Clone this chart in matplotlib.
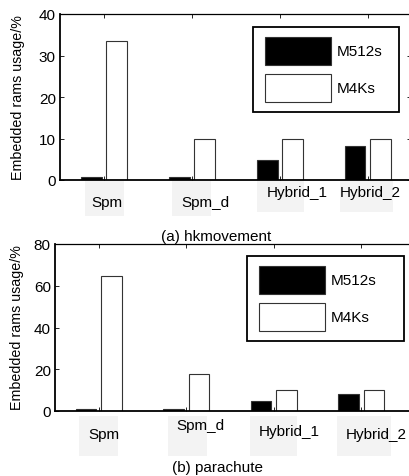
import numpy as np
import matplotlib
matplotlib.use("Agg")
import matplotlib.pyplot as plt
from matplotlib.patches import Rectangle

plt.rcParams['font.family'] = ['Liberation Sans', 'DejaVu Sans']

categories = ['Spm', 'Spm_d', 'Hybrid_1', 'Hybrid_2']
series = ['M512s', 'M4Ks']
hk_m512 = [0.7, 0.7, 4.9, 8.2]
hk_m4k = [33.4, 10.0, 10.0, 10.0]
pa_m512 = [0.8, 0.8, 5.0, 8.3]
pa_m4k = [64.6, 17.9, 10.0, 10.0]
captions = ['(a) hkmovement', '(b) parachute']
ylabel = 'Embedded rams usage/%'

W, H = 409, 477
FS = 11


def px(x0, y0, x1, y1):
    # pixel box -> figure fraction [left, bottom, width, height]
    return [x0 / W, 1 - y1 / H, (x1 - x0) / W, (y1 - y0) / H]


fig = plt.figure(figsize=(W / 100, H / 100), dpi=100)

panels = [
    dict(rect=px(60, 15, 411, 181), xr=4.49, a=hk_m512, b=hk_m4k, ymax=40, yt=[0, 10, 20, 30, 40],
         leg=(253, 28, 399, 113),
         lbl=[(107, 206.8), (205, 207), (297, 196.8), (370, 196.8)],
         box=[(85, 124, 182, 217), (172, 211, 182, 217), (257, 304, 182, 213), (340, 393, 182, 213)],
         cap=(216, 241), yl=(18, 98)),
    dict(rect=px(55, 245, 414, 412), xr=4.60, a=pa_m512, b=pa_m4k, ymax=80, yt=[0, 20, 40, 60, 80],
         leg=(247, 257, 404, 342),
         lbl=[(104, 439), (200, 430.4), (289, 436), (376, 439)],
         box=[(79, 118, 417, 457), (168, 207, 417, 457), (250, 297, 417, 457), (337, 391, 417, 457)],
         cap=(217.5, 472), yl=(17, 328)),
]

x = np.arange(1, len(categories) + 1)
w = 0.235

for i, p in enumerate(panels):
    # gray label backgrounds
    for (x0, x1, y0, y1) in p['box']:
        fig.patches.append(Rectangle((x0 / W, 1 - y1 / H), (x1 - x0) / W, (y1 - y0) / H,
                                     transform=fig.transFigure, facecolor='#f3f3f3',
                                     edgecolor='none', zorder=0))
    ax = fig.add_axes(p['rect'])
    ax.patch.set_alpha(0)
    ax.bar(x - 0.145, p['a'], w, color='black', edgecolor='#333333', linewidth=0.8)
    ax.bar(x + 0.145, p['b'], w, color='white', edgecolor='#333333', linewidth=0.8)
    ax.set_xlim(0.5, p['xr'])
    ax.set_ylim(0, p['ymax'])
    ax.set_xticks(x)
    ax.set_xticklabels([])
    ax.set_yticks(p['yt'])
    ax.tick_params(direction='in', length=3, width=0.6, top=True, right=True,
                   labelsize=FS, pad=3)
    ax.spines['left'].set_linewidth(1.3)
    ax.spines['bottom'].set_linewidth(1.3)
    ax.spines['top'].set_linewidth(0.9)
    ax.spines['right'].set_visible(False)

    for lab, (cx, by) in zip(categories, p['lbl']):
        fig.text(cx / W, 1 - by / H, lab, ha='center', va='baseline', fontsize=FS)
    fig.text(p['cap'][0] / W, 1 - p['cap'][1] / H, captions[i], ha='center',
             va='baseline', fontsize=FS)
    fig.text(p['yl'][0] / W, 1 - p['yl'][1] / H, ylabel, rotation=90, ha='center',
             va='center', fontsize=10.3)

    # legend box drawn MATLAB style
    lx0, ly0, lx1, ly1 = p['leg']
    fig.patches.append(Rectangle((lx0 / W, 1 - ly1 / H), (lx1 - lx0) / W, (ly1 - ly0) / H,
                                 transform=fig.transFigure, facecolor='white',
                                 edgecolor='black', linewidth=1.3, zorder=3))
    for k, (name, fc) in enumerate(zip(series, ['black', 'white'])):
        top = ly0 + 10 + k * 37
        fig.patches.append(Rectangle(((lx0 + 12) / W, 1 - (top + 28) / H), 66 / W, 28 / H,
                                     transform=fig.transFigure, facecolor=fc,
                                     edgecolor='#333333', linewidth=0.8, zorder=4))
        fig.text((lx0 + 84) / W, 1 - (top + 14) / H, name, ha='left', va='center',
                 fontsize=FS, zorder=5)

fig.savefig('out.png', dpi=100)
